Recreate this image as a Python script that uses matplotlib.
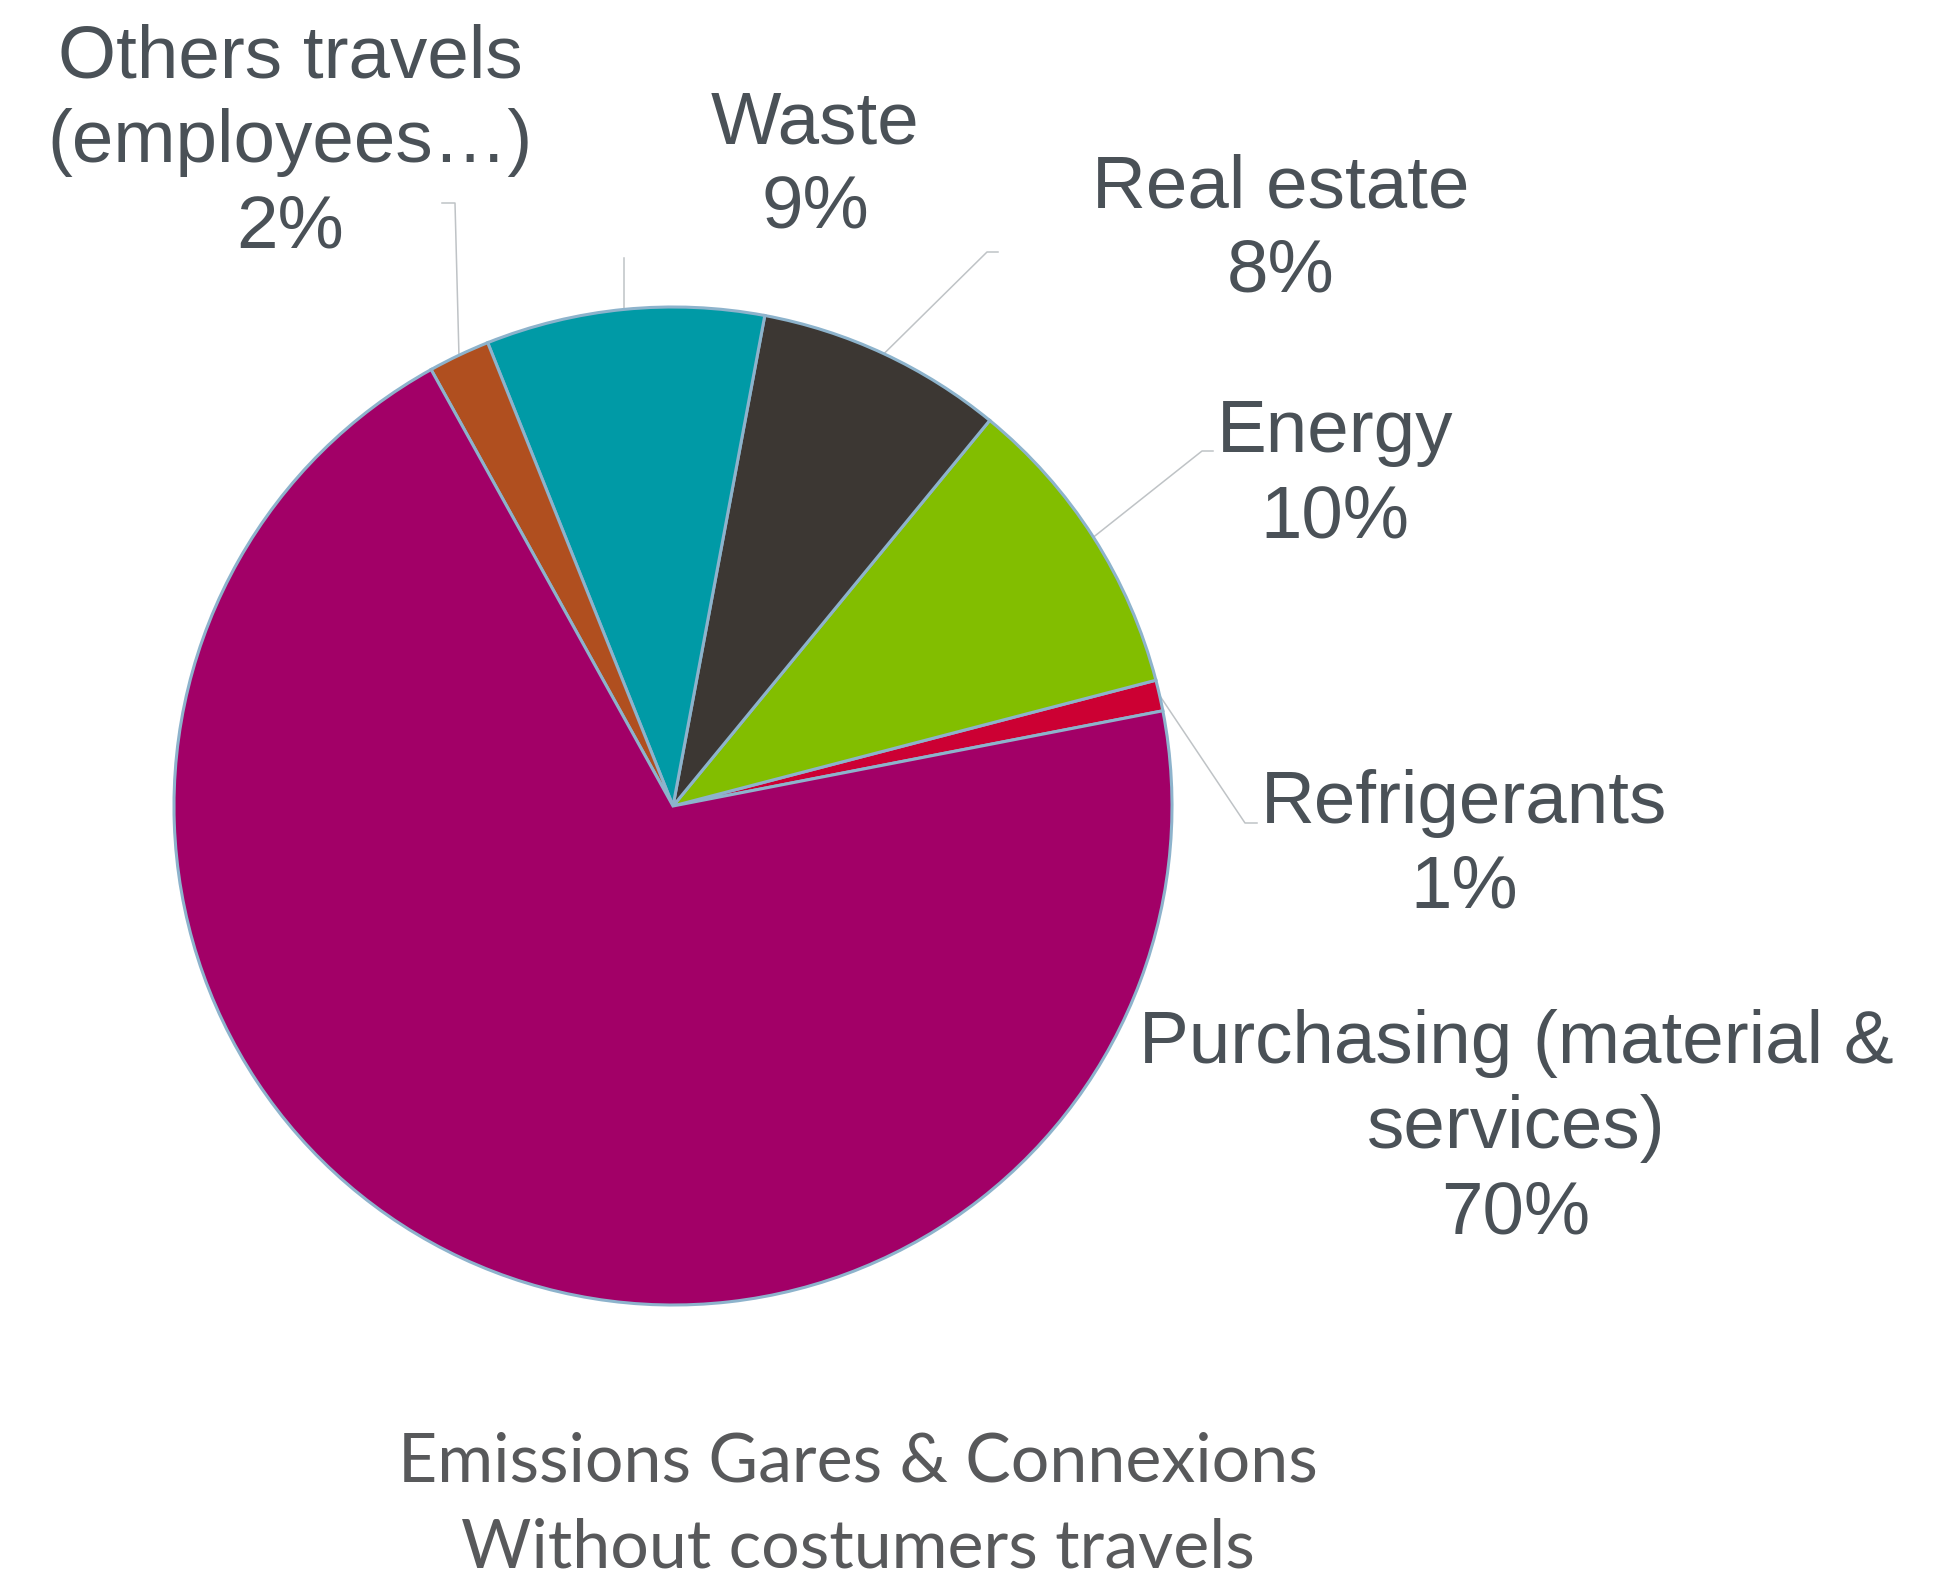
import matplotlib.pyplot as plt
import numpy as np

# Emission shares (%), counter-clockwise from the right-hand side
categories = ['Refrigerants', 'Energy', 'Real estate', 'Waste',
              'Others travels\n(employees…)', 'Purchasing (material &\nservices)']
shares = [1, 10, 8, 9, 2, 70]
colors = ['#CC0033', '#82BE00', '#3C3733', '#009AA6', '#B04F1F', '#A20067']

W, H = 1957, 1579
fig = plt.figure(figsize=(W / 100, H / 100), dpi=100)
ax = fig.add_axes([0, 0, 1, 1])

cx, cy, r = 673, H - 806, 499
wedges, _ = ax.pie(shares, colors=colors, startangle=11, center=(cx, cy), radius=r,
                   wedgeprops=dict(edgecolor='#8DB3CC', linewidth=2.2))
ax.set_xlim(0, W)
ax.set_ylim(0, H)
ax.set_aspect('equal')
ax.axis('off')

txt_color = '#4A5157'
line_gap = 85
# label anchor: centre x, first baseline (from top), leader elbow + end (from top)
layout = {
    0: (1464, 823, [(1245, 823), (1257, 823)]),
    1: (1335, 452, [(1202, 451), (1213, 451)]),
    2: (1281, 207, [(987, 252), (998, 252)]),
    3: (815, 143, [(None, 258)]),
    4: (290, 77, [(455, 203), (442, 203)]),
    5: (1516, 1063, None),
}

for i, w in enumerate(wedges):
    lx, ly, leader = layout[i]
    lines = categories[i].split('\n') + [f'{shares[i]}%']
    for k, s in enumerate(lines):
        ax.text(lx, H - (ly + k * line_gap), s, ha='center', va='baseline',
                fontsize=53.7, color=txt_color, family='Liberation Sans')
    if leader is None:
        continue
    mid = np.deg2rad((w.theta1 + w.theta2) / 2)
    x0, y0 = cx + r * np.cos(mid), cy + r * np.sin(mid)
    xs, ys = [x0], [y0]
    for px, py in leader:
        xs.append(x0 if px is None else px)
        ys.append(H - py)
    ax.plot(xs, ys, color='#BFC3C6', lw=1.1, zorder=0)

title_lines = ['Emissions Gares & Connexions', 'Without costumers travels']
for k, s in enumerate(title_lines):
    ax.text(858, H - (1482 + k * 86), s, ha='center', va='baseline',
            fontsize=49, color='#58595B', family='Lato')

fig.savefig('out.png', dpi=100, facecolor='white')
